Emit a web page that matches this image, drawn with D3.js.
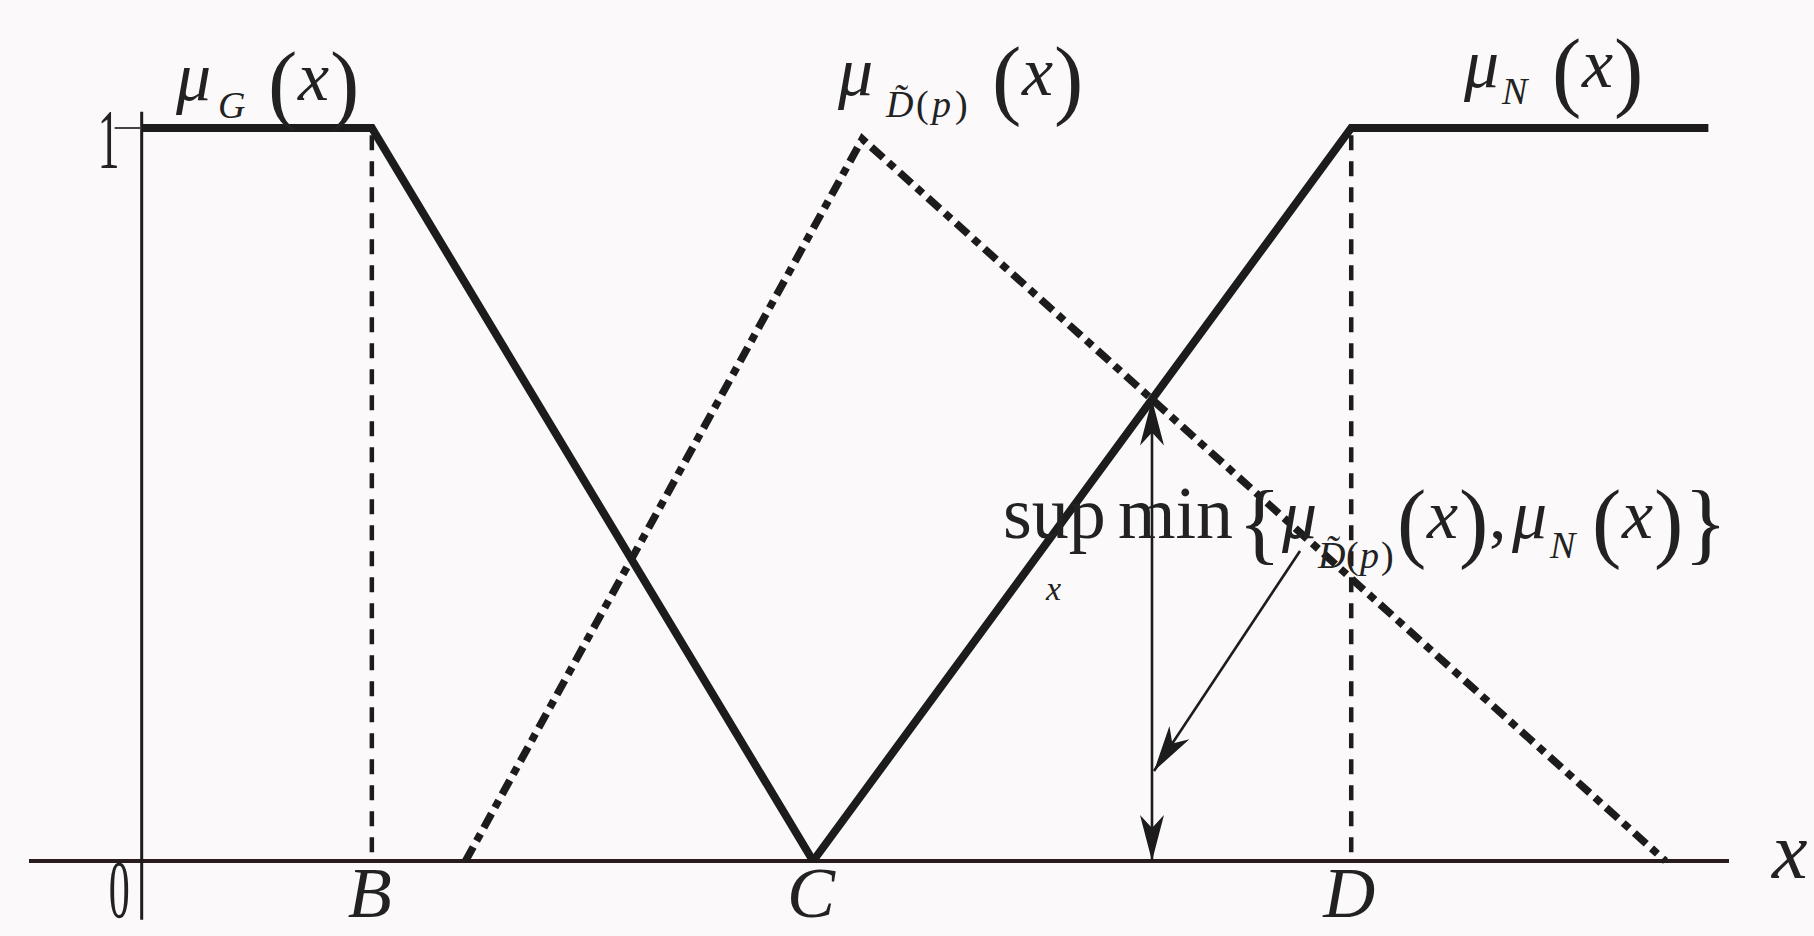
<!DOCTYPE html>
<html>
<head>
<meta charset="utf-8">
<script src="https://cdn.jsdelivr.net/npm/d3@7"></script>
<style>
  html, body { margin: 0; padding: 0; background: #fbf9fa; }
  svg { display: block; }
  text { font-family: "Liberation Serif", "Times New Roman", serif; fill: #222; }
</style>
</head>
<body>
<svg id="chart" width="1814" height="936"></svg>
<script>
// Membership functions (x in abstract units, membership in [0, 1])
const muG = [{x: 0, y: 1}, {x: 14.5, y: 1}, {x: 42.3, y: 0}];
const muN = [{x: 42.3, y: 0}, {x: 76.2, y: 1}, {x: 98.7, y: 1}];
const muD = [{x: 20.4, y: 0}, {x: 45.4, y: 0.985}, {x: 96.0, y: 0}];

// Marked points on the x axis
const xTickLabels = ["B", "C", "D"];
const xTickValues = [14.5, 42.3, 76.2];
// Points whose guide lines drop to the axis
const guideValues = [14.5, 76.2];
const yTickValues = [1];

const svg = d3.select("#chart");

const x = d3.scaleLinear().domain([-7.1, 100]).range([29, 1729]);
const y = d3.scaleLinear().domain([0, 1]).range([861, 128]);

const ink = "#1c1c1c";

// Axes
svg.append("line")
  .attr("x1", x(-7.1)).attr("x2", x(100))
  .attr("y1", y(0)).attr("y2", y(0))
  .attr("stroke", "#2a1c1c").attr("stroke-width", 4);
svg.append("line")
  .attr("x1", x(0)).attr("x2", x(0))
  .attr("y1", y(1.022)).attr("y2", y(-0.08))
  .attr("stroke", ink).attr("stroke-width", 3);
svg.selectAll(".ytick").data(yTickValues).join("line")
  .attr("x1", x(0) - 27).attr("x2", x(0))
  .attr("y1", d => y(d)).attr("y2", d => y(d))
  .attr("stroke", "#444").attr("stroke-width", 2);

// Dashed guides from level 1 down to the axis
svg.selectAll(".guide").data(guideValues).join("line")
  .attr("x1", d => x(d)).attr("x2", d => x(d))
  .attr("y1", y(0.99)).attr("y2", y(0))
  .attr("stroke", ink).attr("stroke-width", 4.5)
  .attr("stroke-dasharray", "15,11");

const line = d3.line().x(d => x(d.x)).y(d => y(d.y));

// Dash-dot triangle
svg.append("path").attr("d", line(muD))
  .attr("fill", "none").attr("stroke", ink).attr("stroke-width", 7.5)
  .attr("stroke-dasharray", "16,7,8,7").attr("stroke-linejoin", "miter");

// Solid membership functions
[muG, muN].forEach(s => {
  svg.append("path").attr("d", line(s))
    .attr("fill", "none").attr("stroke", ink).attr("stroke-width", 8)
    .attr("stroke-linejoin", "miter");
});

// Crossing of the rising N line and the falling dash-dot line
function intersect(a1, a2, b1, b2) {
  const ma = (a2.y - a1.y) / (a2.x - a1.x), mb = (b2.y - b1.y) / (b2.x - b1.x);
  const xi = (b1.y - a1.y + ma * a1.x - mb * b1.x) / (ma - mb);
  return {x: xi, y: a1.y + ma * (xi - a1.x)};
}
const cross = intersect(muN[0], muN[1], muD[1], muD[2]);

// Arrow helper: shaft plus a slim concave head at the end point
function arrowHead(px, py, angle, len, half) {
  const ca = Math.cos(angle), sa = Math.sin(angle);
  const pt = (u, v) => [px - u * ca + v * sa, py - u * sa - v * ca];
  const p = [pt(0, 0), pt(len, half), pt(len * 0.72, 0), pt(len, -half)];
  svg.append("path").attr("d", "M" + p.map(q => q.join(",")).join("L") + "Z")
    .attr("fill", ink);
}
function arrow(x1, y1, x2, y2, both) {
  svg.append("line").attr("x1", x1).attr("y1", y1).attr("x2", x2).attr("y2", y2)
    .attr("stroke", ink).attr("stroke-width", 2.6);
  const a = Math.atan2(y2 - y1, x2 - x1);
  arrowHead(x2, y2, a, 46, 12);
  if (both) arrowHead(x1, y1, a + Math.PI, 46, 12);
}
arrow(x(cross.x), y(cross.y), x(cross.x), y(0), true);
arrow(1300, 551, x(cross.x) + 2, 771, false);

// A formula is one text element; each run is placed on its own
function formula(runs) {
  const t = svg.append("text");
  runs.forEach(r => {
    t.append("tspan")
      .attr("x", r[1]).attr("y", r[2])
      .attr("font-size", r[3])
      .attr("font-style", r[4] ? "italic" : "normal")
      .text(r[0]);
  });
  return t;
}

const F = 70, S = 38, P = 88, BR = 90;
const mu = "\u03bc", Dt = "D\u0303";

// μ_G(x)
formula([
  [mu, 176, 100, F, true], ["G", 218, 118, S, true],
  ["(", 268, 113, P], ["x", 298, 100, F, true], [")", 330, 113, P]
]);

// μ_D̃(p)(x)
formula([
  [mu, 838, 95, F, true],
  [Dt, 886, 117, S, true], ["(", 916, 117, S], ["p", 932, 117, S, true], [")", 955, 117, S],
  ["(", 992, 108, P], ["x", 1022, 95, F, true], [")", 1054, 108, P]
]);

// μ_N(x)
formula([
  [mu, 1464, 87, F, true], ["N", 1502, 104, S, true],
  ["(", 1552, 100, P], ["x", 1582, 87, F, true], [")", 1614, 100, P]
]);

// sup_x min{ μ_D̃(p)(x), μ_N(x) }
const AY = 538;
formula([
  ["sup", 1003, AY, 74], ["x", 1046, 600, 34, true], ["min", 1118, AY, 74],
  ["{", 1238, AY + 15, BR],
  [mu, 1282, AY, F, true],
  [Dt, 1318, 568, S, true], ["(", 1346, 568, S], ["p", 1360, 568, S, true], [")", 1381, 568, S],
  ["(", 1397, AY + 13, P], ["x", 1427, AY, F, true], [")", 1459, AY + 13, P],
  [",", 1489, AY, F],
  [mu, 1512, AY, F, true], ["N", 1550, 558, S, true],
  ["(", 1592, AY + 13, P], ["x", 1622, AY, F, true], [")", 1654, AY + 13, P],
  ["}", 1684, AY + 15, BR]
]);

// Axis labels
svg.selectAll(".ylab").data(yTickValues).join("text")
  .attr("transform", d => `translate(${x(0) - 44},${y(d) + 40}) scale(0.62,1.2)`)
  .attr("font-size", 70).text(d => d);
svg.append("text")
  .attr("transform", `translate(${x(0) - 33},${y(0) + 56}) scale(0.6,1.17)`)
  .attr("font-size", 70).text("0");
svg.selectAll(".xlab").data(xTickLabels).join("text")
  .attr("x", (d, i) => x(xTickValues[i]) - 2)
  .attr("y", y(0) + 56)
  .attr("text-anchor", "middle")
  .attr("font-size", 72).attr("font-style", "italic")
  .text(d => d);
svg.append("text").attr("x", 1772).attr("y", 878)
  .attr("font-size", 80).attr("font-style", "italic").text("x");
</script>
</body>
</html>
